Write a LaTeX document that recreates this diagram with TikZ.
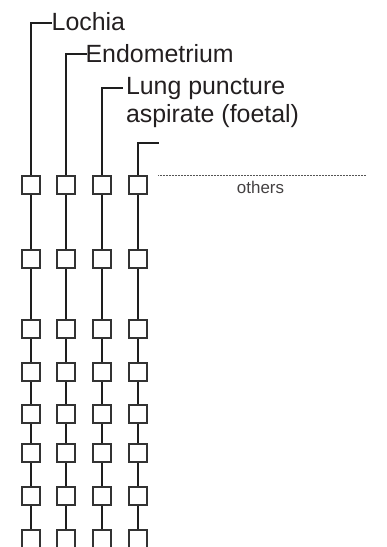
\documentclass[tikz,border=0pt]{standalone}
\usepackage{fontspec}
\setmainfont{Liberation Sans}
\definecolor{textc}{HTML}{231F20}
\definecolor{linec}{HTML}{1E1E1E}
\definecolor{boxc}{HTML}{333333}
\definecolor{dotc}{HTML}{555555}
\begin{document}
\begin{tikzpicture}[x=1bp,y=-1bp,
  box/.style={draw=boxc, fill=white, minimum size=18bp, inner sep=0pt, line width=2bp},
  link/.style={draw=linec, line width=1.8bp},
  lab/.style={font=\fontsize{25}{28.5}\selectfont, text=textc, inner sep=0pt, anchor=base west, align=left},
  small/.style={font=\fontsize{17}{20}\selectfont, text=textc!85, inner sep=0pt, anchor=base},
  dotline/.style={draw=dotc, line width=0.7bp, dash pattern=on 0.6bp off 0.9bp}]
\useasboundingbox (0,0) rectangle (386,547);
\clip (0,0) rectangle (386,547);
% boxes
\foreach \c/\x in {1/31,2/66,3/102,4/138}{
  \foreach \r/\y in {1/185,2/259,3/329,4/372,5/414,6/453,7/496,8/539}{
    \node[box] (b\c-\r) at (\x,\y) {};
  }
}
% vertical connectors between boxes
\foreach \c in {1,2,3,4}{
  \foreach \r in {1,...,7}{
    \pgfmathtruncatemacro{\rn}{\r+1}
    \draw[link] (b\c-\r) -- (b\c-\rn);
  }
}
% labels
\node[lab] (lochia) at (51.5,31) {Lochia};
\node[lab] (endo) at (85.4,62.3) {Endometrium};
\node[lab] (lung) at (125.8,122.5) {Lung puncture\\aspirate (foetal)};
\coordinate (c1) at (51.7,23);
\coordinate (c2) at (86.7,54);
\coordinate (c3) at (122.7,88);
\coordinate (c4) at (159,143);
\draw[link] (b1-1.north) |- (c1);
\draw[link] (b2-1.north) |- (c2);
\draw[link] (b3-1.north) |- (c3);
\draw[link] (b4-1.north) |- (c4);
% others
\coordinate (d1) at (158.3,175.7);
\coordinate (d2) at (365.7,175.7);
\draw[dotline] (d1) -- (d2);
\node[small] (others) at (260.5,193.3) {others};
\end{tikzpicture}
\end{document}
